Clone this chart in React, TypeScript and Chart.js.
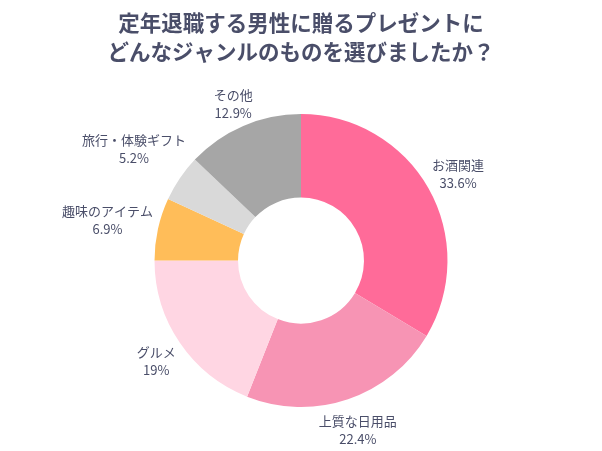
import React, { useEffect, useRef } from "react";
import { Chart, registerables } from "chart.js";

Chart.register(...registerables);

const categories = ["お酒関連", "上質な日用品", "グルメ", "趣味のアイテム", "旅行・体験ギフト", "その他"];
const values = [33.6, 22.4, 19, 6.9, 5.2, 12.9];
const valueLabels = ["33.6%", "22.4%", "19%", "6.9%", "5.2%", "12.9%"];
const colors = ["#FF6B99", "#F794B4", "#FFD6E3", "#FFBD59", "#D9D9D9", "#A6A6A6"];
const titleLines = ["定年退職する男性に贈るプレゼントに", "どんなジャンルのものを選びましたか？"];

const TEXT_COLOR = "#4A4E69";
const FONT = "'Noto Sans CJK JP', 'Noto Sans', sans-serif";

const outsideLabels = {
  id: "outsideLabels",
  afterDraw(chart: any) {
    const ctx = chart.ctx;
    const meta = chart.getDatasetMeta(0);
    ctx.save();
    ctx.font = `13px ${FONT}`;
    ctx.fillStyle = TEXT_COLOR;
    ctx.textAlign = "center";
    ctx.textBaseline = "middle";
    meta.data.forEach((arc: any, i: number) => {
      const { x, y, startAngle, endAngle, outerRadius } = arc.getProps(
        ["x", "y", "startAngle", "endAngle", "outerRadius"],
        true
      );
      const mid = (startAngle + endAngle) / 2;
      const cos = Math.cos(mid);
      const sin = Math.sin(mid);
      const w = Math.max(ctx.measureText(categories[i]).width, ctx.measureText(valueLabels[i]).width);
      const d = outerRadius + 4 + Math.abs(cos) * (w / 2) + Math.abs(sin) * 15;
      const cx = x + d * cos;
      const cy = y + d * sin + 2;
      ctx.fillText(categories[i], cx, cy - 9);
      ctx.fillText(valueLabels[i], cx, cy + 9);
    });
    ctx.restore();
  },
};

export default function App() {
  const ref = useRef<HTMLCanvasElement | null>(null);
  useEffect(() => {
    if (!ref.current) return;
    const chart = new Chart(ref.current, {
      type: "doughnut",
      data: {
        labels: categories,
        datasets: [
          {
            data: values,
            backgroundColor: colors,
            borderWidth: 0,
          },
        ],
      },
      options: {
        animation: false,
        responsive: true,
        maintainAspectRatio: false,
        cutout: "43%",
        layout: { padding: { top: 0, bottom: 44, left: 0, right: 0 } },
        plugins: {
          legend: { display: false },
          tooltip: { enabled: false },
          title: {
            display: true,
            text: titleLines,
            color: TEXT_COLOR,
            font: { family: FONT, size: 21.5, weight: "bold", lineHeight: 1.35 },
            padding: { top: 0, bottom: 48 },
          },
        },
      },
      plugins: [outsideLabels],
    });
    return () => chart.destroy();
  }, []);
  return (
    <div style={{ width: 586, height: 443, position: "relative" }}>
      <canvas ref={ref} />
    </div>
  );
}
